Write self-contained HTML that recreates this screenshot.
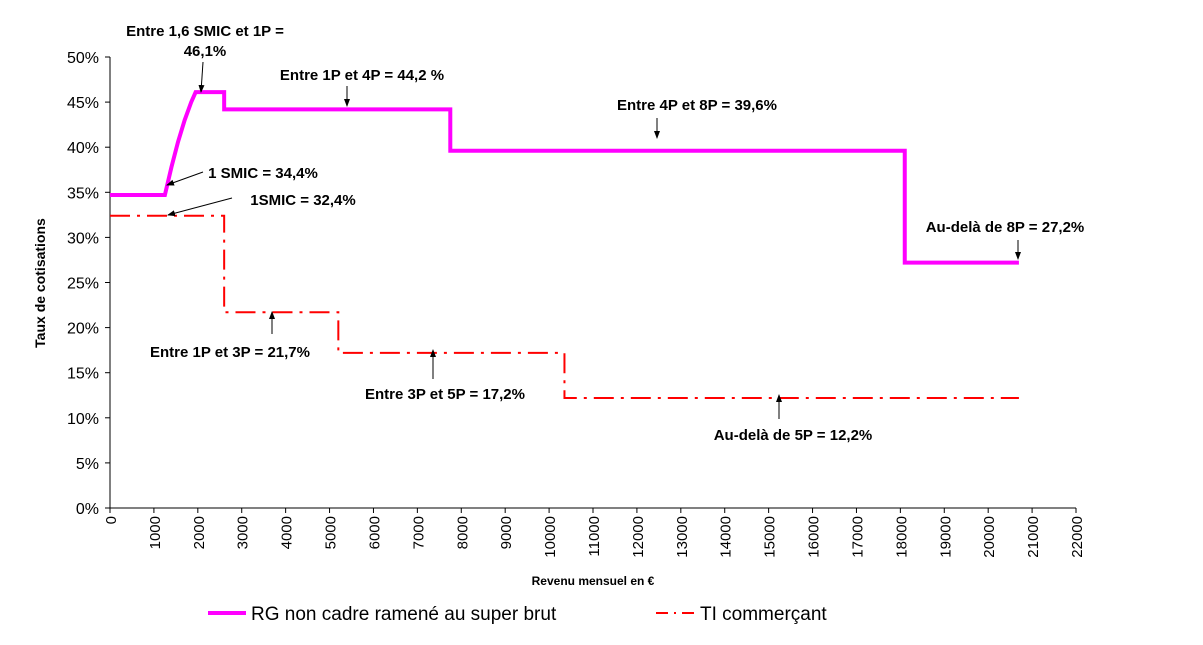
<!DOCTYPE html>
<html><head><meta charset="utf-8"><style>
body{margin:0;background:#fff;width:1203px;height:640px;overflow:hidden}
svg text{font-family:"Liberation Sans",Arial,sans-serif}
.ann{font-weight:bold;font-size:15px;fill:#000}
</style></head><body>
<svg id="chart" width="1203" height="640">
<defs><marker id="ah" markerWidth="8" markerHeight="8" refX="7" refY="4" orient="auto" markerUnits="userSpaceOnUse"><path d="M0,1 L8,4 L0,7 z" fill="#000"/></marker></defs>
<g id="axes"></g><g id="series"></g><g id="anns"></g>
<text x="45" y="283" transform="rotate(-90 45 283)" text-anchor="middle" font-size="14" font-weight="bold">Taux de cotisations</text>
<text x="593" y="585" text-anchor="middle" font-size="12" font-weight="bold">Revenu mensuel en €</text>
<g><line x1="208" y1="613" x2="246" y2="613" stroke="#ff00ff" stroke-width="4"/><text x="251" y="620" font-size="19">RG non cadre ramené au super brut</text></g>
<g><line x1="656" y1="613" x2="694" y2="613" stroke="#ff0000" stroke-width="2" stroke-dasharray="12,6,2,6"/><text x="700" y="620" font-size="19">TI commerçant</text></g>
</svg>
<script>
const xTicks=[0,1000,2000,3000,4000,5000,6000,7000,8000,9000,10000,11000,12000,13000,14000,15000,16000,17000,18000,19000,20000,21000,22000];
const yTicks=[0,5,10,15,20,25,30,35,40,45,50];
const rgX=[0,1250,1400,1550,1700,1850,1950,2600,2600,7750,7750,18100,18100,20700];
const rgY=[34.7,34.7,37.8,40.6,43.0,45.0,46.1,46.1,44.2,44.2,39.6,39.6,27.2,27.2];
const tiX=[0,2600,2600,5200,5200,10350,10350,20700];
const tiY=[32.4,32.4,21.7,21.7,17.2,17.2,12.2,12.2];
const NS="http://www.w3.org/2000/svg";
const X0=110,X1=1076,Y0=508,Y1=57;
const sx=v=>X0+(X1-X0)*v/22000, sy=v=>Y0-(Y0-Y1)*v/50;
function mk(tag,at,parent){const e=document.createElementNS(NS,tag);for(const k in at)e.setAttribute(k,at[k]);document.getElementById(parent).appendChild(e);return e;}
let ax=mk('line',{x1:X0,y1:Y1,x2:X0,y2:Y0,stroke:'#000'},'axes');


ax=mk('line',{x1:X0,y1:Y0,x2:X1,y2:Y0,stroke:'#000'},'axes');


yTicks.forEach(v=>{mk('line',{x1:X0-5,y1:sy(v),x2:X0,y2:sy(v),stroke:'#000'},'axes');
const t=mk('text',{x:X0-11,y:sy(v)+6,'text-anchor':'end','font-size':'16'},'axes');t.textContent=v+'%';

});
xTicks.forEach(v=>{const x=sx(v);mk('line',{x1:x,y1:Y0,x2:x,y2:Y0+5,stroke:'#000'},'axes');
const t=mk('text',{x:x+6,y:516,'text-anchor':'end','font-size':'15',transform:`rotate(-90 ${x+6} 516)`},'axes');t.textContent=v;

});
let p=mk('polyline',{points:rgX.map((v,i)=>sx(v)+','+sy(rgY[i])).join(' '),fill:'none',stroke:'#ff00ff','stroke-width':4},'series');


p=mk('polyline',{points:tiX.map((v,i)=>sx(v)+','+sy(tiY[i])).join(' '),fill:'none',stroke:'#ff0000','stroke-width':2,'stroke-dasharray':'20,7,3,7'},'series');


const anns=[
[205,36,'Entre 1,6 SMIC et 1P =',0,0,'',0],[205,56,'46,1%',0,0,'',0],
[362,80,'Entre 1P et 4P = 44,2 %',347,86,347,106],
[697,110,'Entre 4P et 8P = 39,6%',657,118,657,138],
[263,178,'1 SMIC = 34,4%',203,172,167,185],
[303,205,'1SMIC = 32,4%',232,198,168,215],
[1005,232,'Au-delà de 8P = 27,2%',1018,240,1018,259],
[230,357,'Entre 1P et 3P = 21,7%',272,334,272,312],
[445,399,'Entre 3P et 5P = 17,2%',433,379,433,350],
[793,440,'Au-delà de 5P = 12,2%',779,419,779,395]];
anns.forEach((a,i)=>{const t=mk('text',{x:a[0],y:a[1],'text-anchor':'middle',class:'ann'},'anns');t.textContent=a[2];


if(a[5]!==''){const l=mk('line',{x1:a[3],y1:a[4],x2:a[5],y2:a[6],stroke:'#000','stroke-width':1,'marker-end':'url(#ah)'},'anns');

}});
const l=mk('line',{x1:203,y1:62,x2:201,y2:92,stroke:'#000','marker-end':'url(#ah)'},'anns');


</script>
</body></html>
